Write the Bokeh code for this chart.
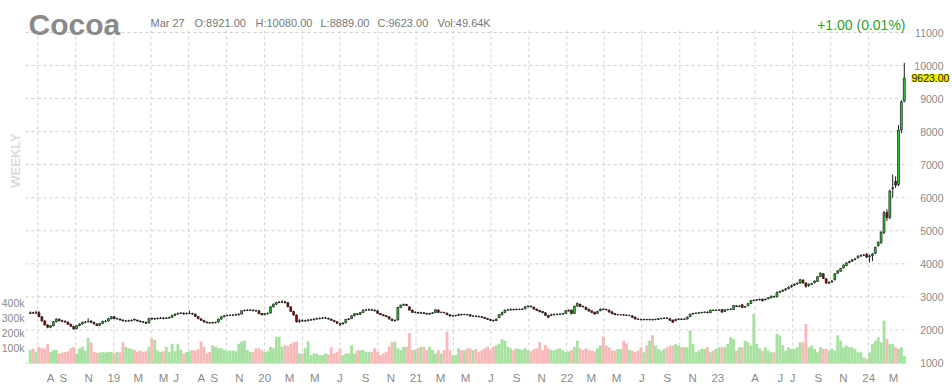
import math
import numpy as np
import pandas as pd
from bokeh.plotting import figure
from bokeh.models import Range1d, Label, ColumnDataSource
from bokeh.core.properties import value
from bokeh.embed import file_html
from bokeh.resources import INLINE

# ---------------- data (weekly) ----------------
last_week = "2024-03-27"

opens = [
    2500, 2520, 2510, 2520, 2400, 2270, 2150, 2080, 2130, 2250,
    2320, 2280, 2260, 2240, 2170, 2110, 2040, 2130, 2180, 2230,
    2250, 2270, 2230, 2180, 2140, 2200, 2260, 2270, 2340, 2400,
    2340, 2330, 2300, 2270, 2270, 2280, 2320, 2300, 2270, 2250,
    2230, 2210, 2350, 2330, 2340, 2350, 2360, 2350, 2360, 2380,
    2440, 2480, 2500, 2510, 2490, 2500, 2500, 2480, 2410, 2340,
    2290, 2240, 2220, 2210, 2220, 2240, 2330, 2400, 2430, 2440,
    2450, 2450, 2460, 2480, 2580, 2590, 2600, 2600, 2590, 2580,
    2500, 2460, 2490, 2510, 2700, 2780, 2830, 2840, 2850, 2830,
    2700, 2560, 2450, 2260, 2280, 2270, 2280, 2300, 2310, 2330,
    2340, 2350, 2360, 2350, 2330, 2290, 2250, 2190, 2180, 2220,
    2320, 2340, 2430, 2490, 2470, 2530, 2600, 2600, 2610, 2600,
    2580, 2500, 2460, 2430, 2400, 2330, 2280, 2300, 2680, 2750,
    2770, 2700, 2600, 2530, 2530, 2510, 2520, 2500, 2480, 2500,
    2530, 2600, 2530, 2530, 2510, 2460, 2420, 2430, 2440, 2470,
    2460, 2470, 2460, 2420, 2420, 2410, 2400, 2380, 2350, 2320,
    2290, 2280, 2370, 2460, 2530, 2600, 2600, 2620, 2610, 2620,
    2620, 2640, 2700, 2720, 2690, 2630, 2590, 2560, 2520, 2440,
    2440, 2460, 2470, 2470, 2480, 2500, 2570, 2600, 2500, 2720,
    2780, 2710, 2690, 2630, 2580, 2540, 2500, 2580, 2630, 2620,
    2600, 2550, 2500, 2460, 2460, 2460, 2450, 2440, 2430, 2390,
    2330, 2320, 2310, 2320, 2310, 2320, 2310, 2320, 2340, 2350,
    2360, 2340, 2300, 2280, 2320, 2330, 2320, 2330, 2400, 2480,
    2500, 2510, 2520, 2530, 2540, 2520, 2600, 2590, 2600, 2620,
    2560, 2610, 2620, 2620, 2730, 2710, 2760, 2690, 2730, 2800,
    2890, 2900, 2910, 2930, 2910, 2940, 2970, 3010, 3000, 3140,
    3170, 3210, 3250, 3300, 3350, 3390, 3420, 3510, 3420, 3350,
    3380, 3430, 3470, 3620, 3700, 3550, 3420, 3450, 3520, 3720,
    3780, 3880, 3950, 4040, 4080, 4130, 4180, 4240, 4260, 4290,
    4220, 4250, 4320, 4550, 4650, 4950, 5550, 5400, 6280, 6500,
    6400, 8050, 8921,
]

highs = [
    2560, 2550, 2580, 2570, 2420, 2300, 2170, 2150, 2270, 2350,
    2350, 2310, 2290, 2250, 2190, 2120, 2140, 2200, 2250, 2270,
    2350, 2290, 2250, 2200, 2210, 2280, 2300, 2360, 2420, 2420,
    2370, 2350, 2320, 2300, 2310, 2320, 2340, 2310, 2290, 2270,
    2250, 2370, 2380, 2370, 2380, 2390, 2380, 2390, 2400, 2460,
    2500, 2530, 2540, 2530, 2530, 2590, 2520, 2490, 2420, 2350,
    2300, 2260, 2240, 2250, 2250, 2340, 2410, 2450, 2460, 2470,
    2480, 2490, 2500, 2590, 2620, 2630, 2630, 2620, 2610, 2590,
    2510, 2510, 2530, 2720, 2800, 2850, 2880, 2900, 2880, 2840,
    2710, 2580, 2470, 2330, 2320, 2310, 2330, 2340, 2350, 2370,
    2380, 2390, 2400, 2370, 2340, 2300, 2260, 2220, 2240, 2330,
    2360, 2440, 2510, 2500, 2540, 2620, 2640, 2650, 2640, 2620,
    2590, 2510, 2470, 2450, 2410, 2340, 2320, 2700, 2770, 2800,
    2790, 2710, 2620, 2570, 2550, 2550, 2540, 2520, 2520, 2540,
    2630, 2620, 2560, 2550, 2520, 2470, 2450, 2460, 2490, 2490,
    2490, 2480, 2470, 2450, 2440, 2430, 2410, 2390, 2360, 2330,
    2310, 2350, 2480, 2550, 2620, 2640, 2650, 2640, 2650, 2650,
    2660, 2730, 2750, 2740, 2700, 2640, 2600, 2570, 2530, 2450,
    2490, 2500, 2500, 2510, 2510, 2600, 2620, 2610, 2730, 2830,
    2790, 2740, 2700, 2640, 2590, 2550, 2580, 2650, 2650, 2640,
    2610, 2560, 2510, 2490, 2480, 2470, 2470, 2460, 2440, 2400,
    2350, 2340, 2340, 2330, 2340, 2330, 2340, 2360, 2370, 2380,
    2380, 2350, 2310, 2340, 2350, 2350, 2350, 2400, 2490, 2520,
    2530, 2540, 2550, 2560, 2560, 2610, 2620, 2620, 2630, 2630,
    2630, 2640, 2650, 2750, 2750, 2750, 2790, 2730, 2810, 2900,
    2930, 2940, 2950, 2950, 2950, 2990, 3040, 3040, 3160, 3190,
    3230, 3270, 3320, 3370, 3410, 3440, 3540, 3530, 3440, 3410,
    3430, 3500, 3630, 3740, 3720, 3560, 3470, 3510, 3720, 3810,
    3880, 3980, 4050, 4100, 4150, 4180, 4260, 4290, 4300, 4320,
    4280, 4330, 4520, 4680, 5000, 5600, 5650, 6250, 6700, 6650,
    8200, 8950, 10080,
]

lows = [
    2480, 2480, 2490, 2390, 2260, 2140, 2050, 2060, 2110, 2230,
    2260, 2240, 2220, 2160, 2100, 2010, 2020, 2110, 2160, 2200,
    2230, 2220, 2170, 2120, 2120, 2180, 2230, 2250, 2320, 2330,
    2310, 2290, 2260, 2240, 2250, 2260, 2290, 2260, 2230, 2210,
    2180, 2200, 2310, 2310, 2320, 2330, 2320, 2330, 2340, 2370,
    2420, 2460, 2480, 2460, 2470, 2480, 2460, 2400, 2330, 2280,
    2230, 2200, 2190, 2190, 2200, 2220, 2310, 2380, 2410, 2420,
    2420, 2430, 2440, 2470, 2560, 2570, 2570, 2560, 2550, 2480,
    2440, 2450, 2470, 2500, 2680, 2760, 2810, 2820, 2800, 2690,
    2550, 2440, 2220, 2210, 2240, 2250, 2260, 2280, 2290, 2310,
    2320, 2330, 2330, 2310, 2280, 2240, 2190, 2120, 2160, 2200,
    2300, 2330, 2410, 2450, 2450, 2510, 2570, 2580, 2580, 2560,
    2490, 2450, 2420, 2390, 2320, 2270, 2250, 2290, 2660, 2730,
    2720, 2590, 2520, 2510, 2490, 2490, 2480, 2460, 2460, 2490,
    2520, 2510, 2510, 2500, 2450, 2410, 2400, 2410, 2430, 2440,
    2450, 2440, 2400, 2400, 2390, 2380, 2360, 2330, 2300, 2270,
    2250, 2270, 2360, 2440, 2510, 2580, 2590, 2590, 2600, 2600,
    2600, 2630, 2690, 2680, 2620, 2580, 2540, 2510, 2430, 2360,
    2420, 2440, 2440, 2460, 2460, 2490, 2560, 2480, 2490, 2710,
    2690, 2680, 2610, 2560, 2520, 2470, 2490, 2570, 2600, 2590,
    2530, 2480, 2450, 2440, 2440, 2430, 2420, 2420, 2370, 2320,
    2300, 2290, 2290, 2290, 2290, 2280, 2300, 2310, 2320, 2330,
    2330, 2280, 2210, 2260, 2300, 2300, 2310, 2320, 2390, 2460,
    2480, 2490, 2500, 2510, 2500, 2510, 2570, 2570, 2580, 2520,
    2550, 2590, 2600, 2610, 2690, 2690, 2670, 2670, 2720, 2790,
    2870, 2880, 2890, 2870, 2900, 2930, 2960, 2980, 2990, 3120,
    3150, 3190, 3230, 3280, 3330, 3370, 3400, 3400, 3280, 3300,
    3360, 3410, 3460, 3600, 3540, 3400, 3390, 3430, 3500, 3700,
    3760, 3860, 3930, 4020, 4060, 4110, 4160, 4210, 4230, 4180,
    4040, 4080, 4290, 4520, 4600, 4900, 5300, 5350, 6000, 6300,
    6350, 7950, 8889,
]

closes = [
    2520, 2510, 2520, 2400, 2270, 2150, 2080, 2130, 2250, 2330,
    2280, 2260, 2240, 2170, 2110, 2030, 2130, 2180, 2230, 2240,
    2260, 2230, 2180, 2130, 2200, 2260, 2260, 2340, 2400, 2340,
    2340, 2300, 2270, 2270, 2280, 2290, 2300, 2270, 2250, 2230,
    2200, 2350, 2330, 2340, 2350, 2360, 2350, 2360, 2380, 2440,
    2480, 2500, 2510, 2490, 2500, 2500, 2480, 2410, 2340, 2290,
    2240, 2220, 2210, 2220, 2230, 2330, 2400, 2430, 2440, 2450,
    2450, 2460, 2480, 2580, 2590, 2600, 2600, 2590, 2580, 2490,
    2460, 2490, 2500, 2700, 2780, 2830, 2840, 2850, 2830, 2700,
    2560, 2450, 2250, 2280, 2270, 2280, 2300, 2310, 2330, 2340,
    2350, 2360, 2360, 2330, 2290, 2250, 2200, 2170, 2210, 2320,
    2330, 2430, 2490, 2470, 2530, 2600, 2600, 2610, 2600, 2580,
    2500, 2460, 2430, 2400, 2330, 2280, 2290, 2680, 2750, 2770,
    2740, 2600, 2530, 2530, 2510, 2520, 2500, 2480, 2500, 2520,
    2610, 2530, 2530, 2520, 2460, 2420, 2430, 2440, 2470, 2460,
    2470, 2460, 2420, 2420, 2410, 2400, 2380, 2350, 2320, 2290,
    2280, 2330, 2460, 2530, 2600, 2600, 2620, 2610, 2620, 2620,
    2630, 2700, 2720, 2700, 2630, 2590, 2550, 2520, 2440, 2380,
    2460, 2470, 2470, 2480, 2490, 2580, 2600, 2490, 2720, 2800,
    2710, 2700, 2620, 2570, 2530, 2480, 2560, 2630, 2620, 2610,
    2540, 2490, 2460, 2460, 2460, 2450, 2440, 2440, 2380, 2330,
    2320, 2310, 2320, 2310, 2320, 2310, 2320, 2340, 2350, 2360,
    2350, 2290, 2230, 2320, 2330, 2320, 2330, 2390, 2480, 2500,
    2510, 2520, 2530, 2540, 2530, 2600, 2590, 2600, 2600, 2540,
    2610, 2620, 2630, 2740, 2710, 2720, 2680, 2700, 2800, 2890,
    2900, 2910, 2920, 2880, 2930, 2980, 3020, 3000, 3140, 3160,
    3200, 3240, 3290, 3340, 3380, 3410, 3520, 3420, 3320, 3380,
    3400, 3480, 3610, 3720, 3560, 3420, 3440, 3480, 3700, 3790,
    3860, 3960, 4030, 4070, 4120, 4150, 4230, 4250, 4260, 4200,
    4240, 4300, 4500, 4650, 4950, 5550, 5400, 6200, 6300, 6380,
    8050, 8900, 9623,
]

volumes_k = [
    88, 99, 77, 110, 100, 98, 130, 77, 90, 88,
    66, 70, 75, 80, 100, 110, 66, 99, 110, 85,
    170, 140, 75, 70, 72, 75, 72, 75, 75, 70,
    75, 72, 140, 110, 100, 95, 88, 78, 85, 75,
    80, 110, 165, 155, 85, 75, 80, 110, 75, 130,
    80, 130, 90, 66, 75, 80, 88, 85, 95, 145,
    110, 66, 75, 120, 110, 100, 100, 90, 80, 85,
    85, 80, 130, 145, 150, 88, 77, 77, 100, 100,
    88, 77, 80, 110, 100, 175, 175, 110, 120, 115,
    130, 140, 145, 66, 65, 100, 145, 55, 66, 66,
    55, 55, 66, 60, 107, 66, 77, 100, 55, 66,
    66, 120, 66, 88, 88, 88, 77, 77, 77, 100,
    77, 55, 66, 77, 110, 140, 145, 100, 88, 110,
    110, 200, 90, 88, 100, 110, 110, 88, 110, 88,
    66, 88, 66, 88, 210, 88, 55, 55, 100, 88,
    88, 100, 100, 88, 95, 77, 88, 100, 110, 90,
    110, 120, 130, 160, 150, 110, 100, 88, 100, 95,
    90, 100, 88, 80, 95, 100, 140, 88, 120, 100,
    90, 85, 95, 100, 88, 77, 80, 90, 110, 150,
    100, 88, 100, 90, 85, 80, 100, 118, 177, 118,
    107, 85, 85, 96, 96, 150, 133, 90, 85, 74,
    85, 107, 74, 120, 150, 185, 118, 96, 85, 96,
    107, 118, 118, 129, 118, 107, 107, 107, 217, 129,
    74, 85, 96, 96, 107, 74, 85, 96, 107, 107,
    107, 129, 173, 162, 85, 107, 107, 150, 140, 118,
    327, 129, 100, 85, 107, 85, 74, 74, 195, 184,
    120, 85, 107, 96, 96, 107, 140, 140, 260, 107,
    118, 96, 74, 107, 96, 96, 85, 96, 85, 185,
    150, 107, 118, 107, 107, 96, 74, 74, 40, 30,
    74, 129, 150, 173, 140, 282, 162, 129, 129, 107,
    96, 107, 50,
]

price_ticks = [1000, 2000, 3000, 4000, 5000, 6000, 7000, 8000, 9000, 10000, 11000]
volume_ticks = [100000, 200000, 300000, 400000]
volume_tick_labels = ["100k", "200k", "300k", "400k"]

tick_dates = ["2018-08-01", "2018-09-01", "2018-11-01", "2019-01-01", "2019-03-01",
              "2019-05-01", "2019-06-01", "2019-08-01", "2019-09-01", "2019-11-01",
              "2020-01-01", "2020-03-01", "2020-05-01", "2020-07-01", "2020-09-01",
              "2020-11-01", "2021-01-01", "2021-03-01", "2021-05-01", "2021-07-01",
              "2021-09-01", "2021-11-01", "2022-01-01", "2022-03-01", "2022-05-01",
              "2022-07-01", "2022-09-01", "2022-11-01", "2023-01-01", "2023-04-01",
              "2023-06-01", "2023-07-01", "2023-09-01", "2023-11-01", "2024-01-01",
              "2024-03-01"]
tick_labels = ["A", "S", "N", "19", "M", "M", "J", "A", "S", "N",
               "20", "M", "M", "J", "S", "N", "21", "M", "M", "J",
               "S", "N", "22", "M", "M", "J", "S", "N", "23", "A",
               "J", "J", "S", "N", "24", "M"]

header_name = "Cocoa"
header_date = "Mar 27"
header_fields = ["O:8921.00", "H:10080.00", "L:8889.00", "C:9623.00", "Vol:49.64K"]
header_change = "+1.00 (0.01%)"
period_label = "WEEKLY"

# ---------------- layout constants (canvas px) ----------------
W, H = 952, 384
FIRST_X, WEEK_PX = 29.8, 2.894          # position of first candle, px per week
P1000_Y, PX_PER_1000 = 362.5, 33.05     # price scale
VOL0_Y, PX_PER_100K = 363.0, 15.2       # volume scale
GRID_L, GRID_R, GRID_T, GRID_B = 25, 908, 30, 363
FONT = "Liberation Sans"
AXIS_COLOR = "#8a8a8a"
GRID_COLOR = "#d0d0d0"

def ms(d):
    return pd.Timestamp(d).value // 10**6

DAY = 86400000
dates = pd.date_range(end=last_week, periods=len(closes), freq="7D")
t0 = ms(dates[0])

def x_at(px):      # canvas x -> datetime ms
    return t0 + (px - FIRST_X) / WEEK_PX * 7 * DAY

def price_at(py):  # canvas y -> price
    return 1000 + (P1000_Y - py) / PX_PER_1000 * 1000

def vol_at(py):    # canvas y -> volume
    return (VOL0_Y - py) / PX_PER_100K * 100000

df = pd.DataFrame(dict(date=dates, open=opens, high=highs, low=lows, close=closes,
                       volume=[v * 1000 for v in volumes_k]))
up = df["close"] >= df["open"]
df["top"] = df[["open", "close"]].max(axis=1)
df["bottom"] = df[["open", "close"]].min(axis=1)
df["fill"] = np.where(up, "#2fd02f", "#a80000")
df["vfill"] = np.where(up, "#a7e1a0", "#f8b9b9")
src = ColumnDataSource(df)

p = figure(width=W, height=H, x_axis_type="datetime",
           x_axis_location=None, y_axis_location=None,
           x_range=Range1d(x_at(0), x_at(W)), y_range=Range1d(price_at(H), price_at(0)),
           output_backend="svg", toolbar_location=None,
           min_border=0, min_border_left=0, min_border_right=0,
           min_border_top=0, min_border_bottom=0)
p.extra_y_ranges = {"vol": Range1d(vol_at(H), vol_at(0))}
p.outline_line_color = None
p.background_fill_color = "white"
p.border_fill_color = "white"
p.xgrid.visible = False
p.ygrid.visible = False

# grid lines
quarters = [ms(q) for q in pd.date_range("2018-07-01", "2024-01-01", freq="QS")]
p.segment(x0=quarters, x1=quarters, y0=price_at(GRID_B), y1=price_at(GRID_T),
          line_color=GRID_COLOR, line_dash="3 3", line_width=1)
p.segment(x0=x_at(GRID_L), x1=x_at(GRID_R), y0=price_ticks, y1=price_ticks,
          line_color=GRID_COLOR, line_dash="3 3", line_width=1)

# volume bars
p.vbar(x="date", width=6.9 * DAY, top="volume", bottom=0, y_range_name="vol",
       fill_color="vfill", line_color=None, source=src)
# wicks
p.segment(x0="date", y0="low", x1="date", y1="high", line_color="#1c1c1c",
          line_width=1, source=src)
# bodies
p.vbar(x="date", width=4.6 * DAY, top="top", bottom="bottom", fill_color="fill",
       line_color="#1c1c1c", line_width=0.7, source=src)

# price scale labels (right), right-aligned at the canvas edge
p.text(x=[x_at(943)] * len(price_ticks), y=price_ticks,
       text=[str(t) for t in price_ticks], text_align="right",
       text_baseline="middle", text_font=value(FONT),
       text_font_size="10.5px", text_color=AXIS_COLOR)
# volume scale labels (left)
p.text(x=[x_at(24)] * len(volume_ticks), y=volume_ticks, text=volume_tick_labels,
       y_range_name="vol", text_align="right", text_baseline="middle",
       text_font=value(FONT), text_font_size="10.5px", text_color=AXIS_COLOR)
# date labels (bottom)
p.text(x=[ms(d) for d in tick_dates], y=price_at(377), text=tick_labels,
       text_align="center", text_baseline="middle", text_font=value(FONT),
       text_font_size="11.5px", text_color=AXIS_COLOR)

# last price tag
p.add_layout(Label(x=911, y=closes[-1], x_units="screen", y_units="data",
                   text=f"{closes[-1]:.2f}", text_baseline="middle", text_align="left",
                   text_font=FONT, text_font_size="10.5px", text_color="#222222",
                   background_fill_color="#f0f000", background_fill_alpha=1.0))

# header texts (screen units: from the frame's bottom-left corner = canvas)
def hlabel(text, ax, abase, size, color, style="normal", align="left"):
    p.add_layout(Label(x=ax, y=H - abase, x_units="screen", y_units="screen",
                       text=text, text_font=FONT, text_font_size=size,
                       text_color=color, text_font_style=style, text_align=align,
                       text_baseline="alphabetic"))

hlabel(header_name, 28, 24, "30px", "#8a8a8a", style="bold")
hlabel(header_date, 150, 22, "11px", "#777777")
for txt, ax in zip(header_fields, [194, 255, 320, 377, 437]):
    hlabel(txt, ax, 22, "11px", "#777777")
hlabel(header_change, 905, 24, "14px", "#2f9e2f", align="right")

p.add_layout(Label(x=15, y=H - 160, x_units="screen", y_units="screen",
                   text=period_label, angle=math.pi / 2, text_align="center",
                   text_baseline="middle", text_font=FONT, text_font_size="13px",
                   text_font_style="bold", text_color="#dcdcdc"))

open("out.html", "w").write(file_html(p, INLINE))
